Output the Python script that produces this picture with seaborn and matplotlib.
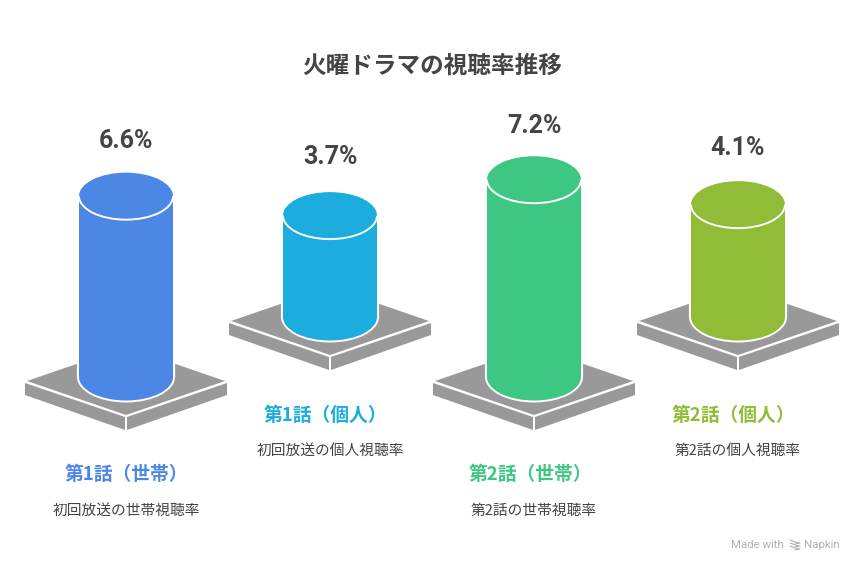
import matplotlib
matplotlib.use("Agg")
import matplotlib.pyplot as plt
from matplotlib.patches import Arc, Ellipse, Polygon
import pandas as pd
import seaborn as sns

WIDTH, HEIGHT = 864, 572

title = "火曜ドラマの視聴率推移"
episodes = ["第1話（世帯）", "第1話（個人）", "第2話（世帯）", "第2話（個人）"]
ratings = [6.6, 3.7, 7.2, 4.1]
notes = ["初回放送の世帯視聴率", "初回放送の個人視聴率", "第2話の世帯視聴率", "第2話の個人視聴率"]
colors = ["#4C87E6", "#1CACDE", "#3DC783", "#91BC38"]

# layout, in picture pixels
centers = [126, 330, 534, 738]
bases = [377, 317, 377, 317]
value_y = [141, 157, 126, 148]
label_y = [475, 415, 475, 415]
label_x = [126, 325, 530, 733]
note_y = [511, 451, 511, 451]
note_x = [126, 330, 534, 738]

PX_PER_UNIT = 27.4
HALF_W = 47
RY = 23.5
GRAY = "#999999"
JP = ["Noto Sans CJK JP", "DejaVu Sans"]


def py(y):
    return (HEIGHT - y) / PX_PER_UNIT


def pts(coords):
    return [(x, py(y)) for x, y in coords]


def draw_plate(ax, cx, base):
    top = base - 30
    mid = base + 4
    front = base + 38
    low = base + 53
    ax.add_patch(Polygon(pts([(cx - 99, mid), (cx, top), (cx + 99, mid), (cx, front)]), fc=GRAY, ec="none", zorder=1))
    ax.add_patch(Polygon(pts([(cx - 101, mid + 2), (cx - 1, front + 2), (cx - 1, low), (cx - 101, mid + 14)]), fc=GRAY, ec="none", zorder=1))
    ax.add_patch(Polygon(pts([(cx + 101, mid + 2), (cx + 1, front + 2), (cx + 1, low), (cx + 101, mid + 14)]), fc=GRAY, ec="none", zorder=1))


def draw_cylinder(ax, cx, base, value, color):
    frame = pd.DataFrame({"x": [cx], "rating": [value]})
    y_base = py(base)
    # white halo where the body stands on the plate
    ax.plot([cx - HALF_W - 1, cx - HALF_W - 1], [y_base, y_base + 1.5], color="white", lw=1.6, zorder=2)
    ax.plot([cx + HALF_W + 1, cx + HALF_W + 1], [y_base, y_base + 1.5], color="white", lw=1.6, zorder=2)
    ax.add_patch(Ellipse((cx, y_base), 2 * HALF_W + 4, (2 * RY + 4) / PX_PER_UNIT, fc="white", ec="none", zorder=2))
    sns.barplot(data=frame, x="x", y="rating", native_scale=True, width=2 * HALF_W, color=color,
                saturation=1, bottom=y_base, linewidth=0, zorder=3, ax=ax)
    ax.add_patch(Ellipse((cx, y_base), 2 * HALF_W, 2 * RY / PX_PER_UNIT, fc=color, ec="none", zorder=3))
    y_top = y_base + value
    ax.add_patch(Ellipse((cx, y_top), 2 * HALF_W, 2 * RY / PX_PER_UNIT, fc=color, ec="none", zorder=4))
    ax.add_patch(Arc((cx, y_top), 2 * HALF_W, 2 * RY / PX_PER_UNIT, theta1=180, theta2=360, color="white", lw=1.4, zorder=5))


sns.set_theme(style="white")
plt.rcParams["font.family"] = JP

fig = plt.figure(figsize=(WIDTH / 100, HEIGHT / 100), dpi=100)
ax = fig.add_axes([0, 0, 1, 1])

for i, value in enumerate(ratings):
    draw_plate(ax, centers[i], bases[i])
    draw_cylinder(ax, centers[i], bases[i], value, colors[i])
    ax.text(centers[i], py(value_y[i]), f"{value}%", family="Roboto", fontweight="bold", fontsize=18,
            color="#444444", ha="center", va="center")
    ax.text(label_x[i], py(label_y[i]), episodes[i], fontweight="bold", fontsize=13.5,
            color=colors[i], ha="center", va="center")
    ax.text(note_x[i], py(note_y[i]), notes[i], fontsize=10.6, color="#444444", ha="center", va="center")

ax.text(432, py(66), title, fontweight="bold", fontsize=17, color="#444444", ha="center", va="center")

# watermark
ax.text(731, py(545), "Made with", family="Roboto", fontsize=8.2, color="#b0b0b0", ha="left", va="center")
ax.text(840, py(545), "Napkin", family="Roboto", fontsize=8.2, color="#b0b0b0", ha="right", va="center")
for offset in (-3, 0, 3):
    ax.plot([790, 795, 800, 795], [py(545 + offset - 2), py(545 + offset), py(545 + offset + 1), py(545 + offset + 2)],
            color="#b0b0b0", lw=0.8)

ax.set_xlim(0, WIDTH)
ax.set_ylim(0, HEIGHT / PX_PER_UNIT)
ax.set_axis_off()
fig.savefig("out.png", dpi=100, facecolor="white")
plt.close(fig)
